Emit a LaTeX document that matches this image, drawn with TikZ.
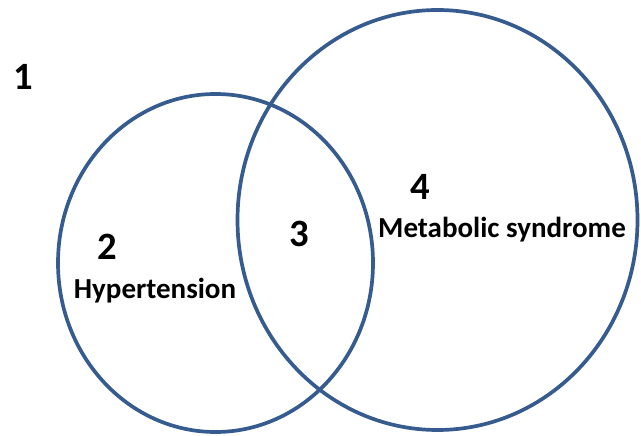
\documentclass[tikz,border=0pt]{standalone}
\usepackage{fontspec}
\setmainfont{Carlito}
\usetikzlibrary{shapes.geometric,positioning}
\definecolor{setblue}{HTML}{365B8E}
\tikzset{
  setc/.style={ellipse,draw=setblue,line width=2.1pt,inner sep=0pt},
  num/.style={font=\fontsize{22}{24}\selectfont\bfseries,text=black,inner sep=0pt},
  setlbl/.style={font=\fontsize{16.5}{18}\selectfont\bfseries,text=black,inner sep=0pt},
}

\begin{document}
\begin{tikzpicture}
  \useasboundingbox[fill=white] (0,0) rectangle (12.82,8.72);

  % the two sets
  \node[setc,minimum width=6.3cm,minimum height=6.76cm] (hyp) at (4.31,3.46) {};
  \node[setc,minimum width=8.0cm,minimum height=8.4cm] (met) at (8.75,4.32) {};

  % regions
  \node[num] (r1) at (0.46,7.18) {1};
  \node[num] (r2) at (2.14,3.78) {2};
  \node[num] (r3) at (5.98,4.04) {3};
  \node[num] (r4) at (8.40,4.98) {4};

  \node[setlbl] (hyplbl) at (3.10,2.90) {Hypertension};
  \node[setlbl] (metlbl) at (10.04,4.12) {Metabolic syndrome};
\end{tikzpicture}
\end{document}
